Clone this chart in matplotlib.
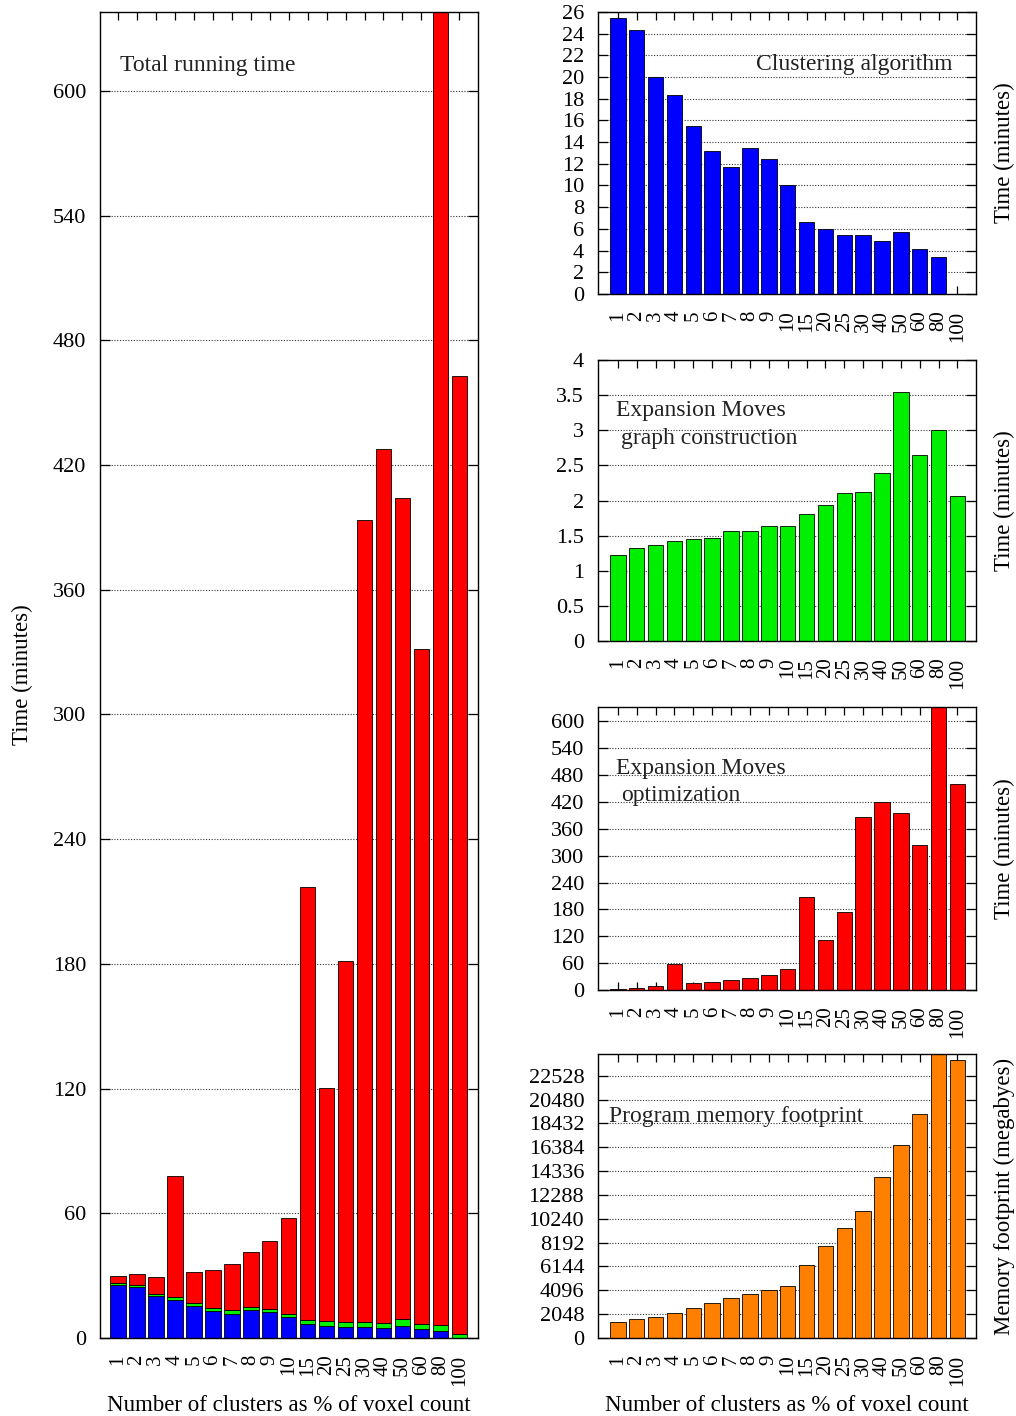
import numpy as np
import matplotlib
matplotlib.use("Agg")
import matplotlib.pyplot as plt

plt.rcParams["font.family"] = ["Liberation Serif", "DejaVu Serif"]
plt.rcParams["text.color"] = "#222222"

# ---------------------------
# Data
# ---------------------------
labels = ["1", "2", "3", "4", "5", "6", "7", "8", "9", "10",
          "15", "20", "25", "30", "40", "50", "60", "80", "100"]

clustering = [25.42, 24.32, 19.97, 18.35, 15.5, 13.17, 11.73, 13.48, 12.43, 10.02,
              6.62, 6.0, 5.45, 5.39, 4.9, 5.67, 4.1, 3.43, 0.03]

graph_build = [1.22, 1.32, 1.37, 1.43, 1.45, 1.47, 1.56, 1.57, 1.64, 1.64,
               1.81, 1.93, 2.11, 2.12, 2.39, 3.54, 2.65, 3.0, 2.07]

optimization = [3.0, 5.2, 8.2, 58.1, 14.9, 17.9, 22.4, 26.1, 32.8, 46.2,
                208.7, 112.5, 173.7, 386.1, 420.4, 395.0, 325.0, 650.0, 460.6]

memory_mb = [1404, 1605, 1777, 2178, 2608, 2981, 3411, 3755, 4127, 4500,
             6248, 7939, 9487, 10949, 13786, 16595, 19232, 24600, 23875]

xlabel_text = "Number of clusters as % of voxel count"

x = np.arange(len(labels))
W = 0.82
FS = 16.5      # axis labels
FS_NOTE = 17   # in-panel titles
FS_Y = 16      # y tick labels
FS_X = 15      # x tick labels


def style_axes(ax, xlim, ylim, yticks, yticklabels=None):
    ax.set_xlim(*xlim)
    ax.set_ylim(*ylim)
    ax.set_xticks(x)
    ax.set_xticklabels(labels, rotation=90, fontsize=FS_X)
    ax.set_yticks(yticks)
    if yticklabels is not None:
        ax.set_yticklabels(yticklabels)
    ax.tick_params(axis="y", labelsize=FS_Y, direction="in", length=7,
                   left=True, right=True, width=0.9, pad=10)
    ax.tick_params(axis="x", direction="in", length=6, top=True, bottom=True,
                   width=0.9, pad=12)
    ax.set_axisbelow(True)
    ax.yaxis.grid(True, linestyle=(0, (1, 1.5)), color="#333333", linewidth=0.8)
    for s in ax.spines.values():
        s.set_linewidth(1.0)
        s.set_color("black")


fig = plt.figure(figsize=(10.16, 14.16), dpi=100)

# ---------------------------
# Left: stacked total running time
# ---------------------------
ax = fig.add_axes([0.0984, 0.0551, 0.372, 0.9364])
bot2 = np.array(clustering) + np.array(graph_build)
ax.bar(x, clustering, W, color="#0000ff", edgecolor="black", linewidth=0.6)
ax.bar(x, graph_build, W, bottom=clustering, color="#00ee00", edgecolor="black", linewidth=0.6)
ax.bar(x, optimization, W, bottom=bot2, color="#ff0000", edgecolor="black", linewidth=0.6)
style_axes(ax, (-0.95, 18.98), (0, 638), np.arange(0, 601, 60))
ax.set_ylabel("Time (minutes)", fontsize=FS, labelpad=14)
ax.set_xlabel(xlabel_text, fontsize=FS, labelpad=7)
ax.text(0.053, 0.96, "Total running time", transform=ax.transAxes,
        fontsize=FS_NOTE, va="center", ha="left")

# ---------------------------
# Right panels
# ---------------------------
RX, RW = 0.5886, 0.372
XL = (-1.05, 18.98)

ax1 = fig.add_axes([RX, 0.7924, RW, 0.1992])
ax1.bar(x, clustering, W, color="#0000ff", edgecolor="black", linewidth=0.6)
style_axes(ax1, XL, (0, 26), np.arange(0, 27, 2))
ax1.text(0.937, 0.812, "Clustering algorithm", transform=ax1.transAxes,
         fontsize=FS_NOTE, va="center", ha="right")

ax2 = fig.add_axes([RX, 0.5473, RW, 0.1984])
ax2.bar(x, graph_build, W, color="#00ee00", edgecolor="black", linewidth=0.6)
style_axes(ax2, XL, (0, 4), np.arange(0, 4.01, 0.5),
           ["0", "0.5", "1", "1.5", "2", "2.5", "3", "3.5", "4"])
ax2.text(0.048, 0.822, "Expansion Moves", transform=ax2.transAxes,
         fontsize=FS_NOTE, va="center", ha="left")
ax2.text(0.061, 0.722, "graph construction", transform=ax2.transAxes,
         fontsize=FS_NOTE, va="center", ha="left")

ax3 = fig.add_axes([RX, 0.3008, RW, 0.1999])
ax3.bar(x, optimization, W, color="#ff0000", edgecolor="black", linewidth=0.6)
style_axes(ax3, XL, (0, 632), np.arange(0, 601, 60))
ax3.text(0.048, 0.784, "Expansion Moves", transform=ax3.transAxes,
         fontsize=FS_NOTE, va="center", ha="left")
ax3.text(0.061, 0.686, "optimization", transform=ax3.transAxes,
         fontsize=FS_NOTE, va="center", ha="left")

ax4 = fig.add_axes([RX, 0.0551, RW, 0.2006])
ax4.bar(x, memory_mb, W, color="#ff8000", edgecolor="black", linewidth=0.6)
style_axes(ax4, XL, (0, 24400), np.arange(0, 22529, 2048))
ax4.text(0.029, 0.778, "Program memory footprint", transform=ax4.transAxes,
         fontsize=FS_NOTE, va="center", ha="left")
ax4.set_xlabel(xlabel_text, fontsize=FS, labelpad=7)

for a, lab in [(ax1, "Time (minutes)"), (ax2, "Time (minutes)"),
               (ax3, "Time (minutes)"), (ax4, "Memory footprint (megabyes)")]:
    a.yaxis.set_label_position("right")
    a.set_ylabel(lab, fontsize=FS, labelpad=13)

fig.savefig("out.png", dpi=100)
